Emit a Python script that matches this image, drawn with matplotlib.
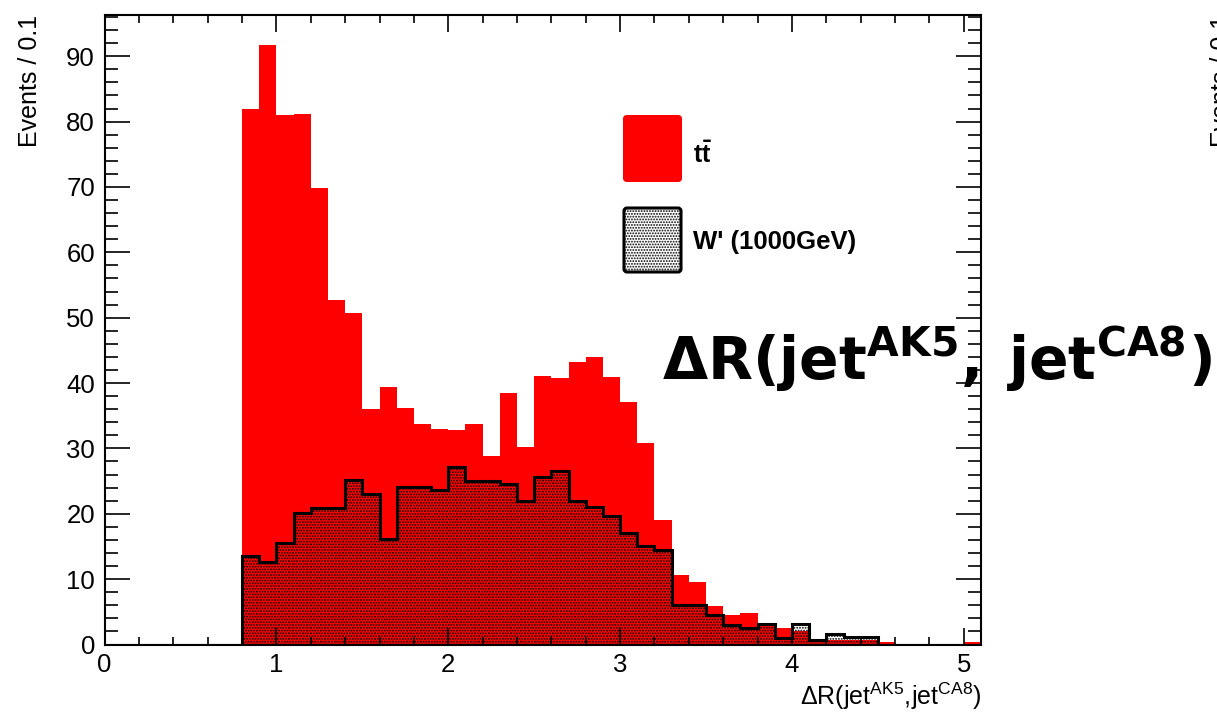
import matplotlib
matplotlib.use("Agg")
import matplotlib.pyplot as plt
import numpy as np
from matplotlib.patches import FancyBboxPatch
from matplotlib.transforms import IdentityTransform
from matplotlib.ticker import MultipleLocator

plt.rcParams['font.family'] = ['Liberation Sans', 'DejaVu Sans']
plt.rcParams['mathtext.fontset'] = 'custom'
plt.rcParams['mathtext.rm'] = 'Liberation Sans'
plt.rcParams['mathtext.it'] = 'Liberation Sans:italic'
plt.rcParams['mathtext.bf'] = 'Liberation Sans:bold'
plt.rcParams['mathtext.sf'] = 'DejaVu Sans:bold'
plt.rcParams['hatch.linewidth'] = 0.9

# Delta R bins, width 0.1, from 0 to 5.1
bin_edges = np.round(np.arange(0, 5.11, 0.1), 2)

# ttbar background, events per bin
ttbar = [0, 0, 0, 0, 0, 0, 0, 0,
         82.0, 91.8, 81.0, 81.2, 69.8, 52.7, 50.7, 36.0, 39.4, 36.2,
         33.7, 33.0, 32.8, 33.8, 28.9, 38.5, 30.2, 41.1, 40.7, 43.2,
         44.0, 40.9, 37.1, 30.9, 19.1, 10.6, 9.6, 5.9, 4.5, 4.8,
         3.0, 2.5, 2.1, 0.4, 0.7, 0.7, 0.7, 0.4,
         0, 0, 0, 0, 0.4]

# W' (1000 GeV) signal, events per bin
wprime = [0, 0, 0, 0, 0, 0, 0, 0,
          13.6, 12.6, 15.6, 20.1, 20.9, 20.9, 25.1, 23.1, 16.1, 24.1,
          24.1, 23.6, 27.1, 25.0, 25.0, 24.6, 22.0, 25.6, 26.6, 22.0,
          21.1, 19.7, 17.1, 15.0, 14.5, 6.0, 6.0, 4.5, 3.0, 2.6,
          3.1, 1.0, 3.1, 0.7, 1.6, 1.1, 1.1, 0,
          0, 0, 0, 0, 0]

W, H = 1217, 717
fig = plt.figure(figsize=(W / 100, H / 100), dpi=100)
ax = fig.add_axes([104.6 / W, 1 - 644.5 / H, (981 - 104.6) / W, (644.5 - 14.5) / H])

ax.stairs(ttbar, bin_edges, fill=True, facecolor='#ff0000', edgecolor='none', linewidth=0)
ax.stairs(wprime, bin_edges, fill=True, facecolor='none', edgecolor='black',
          linewidth=2.2, hatch='......')

ax.set_xlim(0, 5.1)
ax.set_ylim(0, 1.05 * max(ttbar))

# ROOT-like frame with inward ticks on all sides
for sp in ax.spines.values():
    sp.set_linewidth(1.5)
ax.xaxis.set_major_locator(MultipleLocator(1))
ax.xaxis.set_minor_locator(MultipleLocator(0.2))
ax.yaxis.set_major_locator(MultipleLocator(10))
ax.yaxis.set_minor_locator(MultipleLocator(2))
ax.tick_params(which='both', direction='in', top=True, right=True, labelsize=18.5, width=1.2)
ax.tick_params(axis='x', which='major', length=12, pad=6)
ax.tick_params(axis='x', which='minor', length=6)
ax.tick_params(axis='y', which='major', length=18, pad=7)
ax.tick_params(axis='y', which='minor', length=9.5)

ax.set_ylabel('Events / 0.1', fontsize=18, loc='top')
ax.yaxis.set_label_coords(-0.0714, 1.0)
ax.set_xlabel(r'$\mathrm{\Delta R(jet^{AK5},\!jet^{CA8})}$', fontsize=18, loc='right')
ax.xaxis.set_label_coords(1.0, -0.058)

# legend boxes
ident = IdentityTransform()
fig.add_artist(FancyBboxPatch((623, H - 182), 59, 67, boxstyle='round,pad=0,rounding_size=4',
                              facecolor='#ff0000', edgecolor='none', transform=ident))
fig.add_artist(FancyBboxPatch((624, H - 272), 57, 64, boxstyle='round,pad=0,rounding_size=3',
                              facecolor='white', edgecolor='black', linewidth=2.2,
                              hatch='......', transform=ident))
fig.text(693 / W, 1 - 155 / H, r'$\mathbf{t\bar{t}}$', fontsize=18, va='center', ha='left')
fig.text(693 / W, 1 - 242 / H, "W' (1000GeV)", fontsize=18.5, fontweight='bold',
         va='center', ha='left')

# large overlaid variable name
fig.text(662 / W, 1 - 380 / H, r'$\mathsf{\Delta R(jet^{AK5},\ jet^{CA8})}$',
         fontsize=42, ha='left', va='baseline')

# neighbouring panel's axis title, cut by the canvas edge
fig.text(1210 / W, 1 - 15 / H, 'Events / 0.1', fontsize=18, rotation=90,
         ha='left', va='top')

fig.savefig('out.png', dpi=100)
